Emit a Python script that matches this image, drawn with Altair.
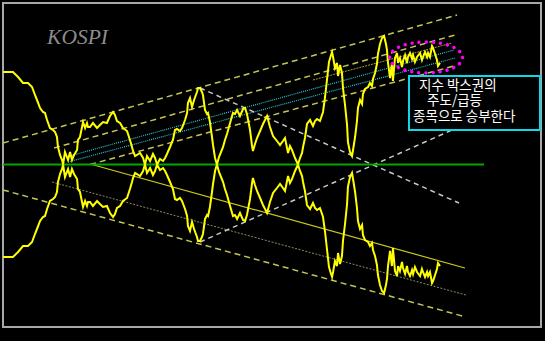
import altair as alt
import pandas as pd

# ---- KOSPI line (upper branch of the mirrored chart), decimal years / chart units
years = [1985.17, 1985.85, 1986.20, 1986.54, 1986.88, 1987.02, 1987.16, 1987.36, 1987.50, 1987.71,
         1987.91, 1988.05, 1988.19, 1988.39, 1988.60, 1988.74, 1988.87, 1988.94, 1989.08, 1989.22,
         1989.29, 1989.42, 1989.63, 1989.77, 1989.90, 1990.04, 1990.25, 1990.31, 1990.45, 1990.59,
         1990.66, 1990.80, 1990.93, 1991.00, 1991.14, 1991.34, 1991.62, 1991.82, 1992.03, 1992.30,
         1992.51, 1992.72, 1992.85, 1992.99, 1993.20, 1993.40, 1993.68, 1993.88, 1994.02, 1994.09,
         1994.23, 1994.36, 1994.57, 1994.78, 1994.91, 1995.05, 1995.26, 1995.46, 1995.60, 1995.74,
         1995.94, 1996.15, 1996.29, 1996.42, 1996.63, 1996.83, 1996.97, 1997.11, 1997.31, 1997.45,
         1997.66, 1997.80, 1997.86, 1998.00, 1998.14, 1998.28, 1998.48, 1998.55, 1998.69, 1998.82,
         1998.89, 1999.03, 1999.17, 1999.24, 1999.37, 1999.51, 1999.58, 1999.72, 1999.85, 1999.99,
         2000.13, 2000.27, 2000.40, 2000.54, 2000.75, 2000.95, 2001.09, 2001.23, 2001.43, 2001.64,
         2001.78, 2001.91, 2002.12, 2002.26, 2002.32, 2002.46, 2002.60, 2002.81, 2003.01, 2003.29,
         2003.49, 2003.70, 2003.97, 2004.18, 2004.38, 2004.52, 2004.73, 2004.86, 2005.00, 2005.21,
         2005.41, 2005.55, 2005.69, 2005.76, 2005.89, 2006.03, 2006.24, 2006.44, 2006.58, 2006.72,
         2006.92, 2007.13, 2007.27, 2007.40, 2007.54, 2007.68, 2007.75, 2007.82, 2007.95, 2008.09,
         2008.16, 2008.30, 2008.43, 2008.50, 2008.64, 2008.78, 2008.84, 2008.98, 2009.12, 2009.19,
         2009.33, 2009.46, 2009.53, 2009.67, 2009.81, 2009.87, 2010.01, 2010.22, 2010.35, 2010.49,
         2010.56, 2010.70, 2010.83, 2010.90, 2011.04, 2011.18, 2011.32, 2011.45, 2011.52, 2011.59,
         2011.73, 2011.86, 2011.93, 2012.07, 2012.21, 2012.28, 2012.41, 2012.55, 2012.62, 2012.76,
         2012.89, 2012.96, 2013.10, 2013.24, 2013.31, 2013.44, 2013.58, 2013.79, 2013.92, 2013.99,
         2014.13, 2014.27, 2014.34, 2014.47, 2014.61, 2014.68, 2014.82, 2014.95, 2015.02, 2015.16]
upper_branch = [2925, 2925, 2875, 2815, 2815, 2795, 2775, 2695, 2645, 2565,
                2525, 2515, 2445, 2365, 2345, 2325, 2275, 2175, 2095, 2045,
                2000, 2125, 2045, 2125, 2045, 2095, 2145, 2245, 2275, 2375,
                2425, 2365, 2415, 2375, 2375, 2415, 2365, 2395, 2425, 2415,
                2485, 2525, 2495, 2435, 2415, 2365, 2335, 2245, 2175, 2135,
                2085, 2095, 2115, 2065, 2000, 2085, 2035, 2105, 2065, 2000,
                2055, 2035, 2065, 2105, 2175, 2245, 2345, 2355, 2335, 2365,
                2445, 2515, 2615, 2665, 2575, 2645, 2725, 2765, 2765, 2725,
                2695, 2545, 2505, 2515, 2425, 2275, 2195, 2065, 2000, 2075,
                2125, 2175, 2245, 2305, 2415, 2515, 2505, 2545, 2485, 2555,
                2565, 2505, 2345, 2185, 2135, 2205, 2265, 2335, 2405, 2485,
                2375, 2285, 2235, 2195, 2235, 2265, 2115, 2185, 2145, 2065,
                2000, 2065, 2115, 2175, 2265, 2405, 2445, 2385, 2435, 2455,
                2435, 2525, 2675, 2845, 3025, 3095, 3125, 3075, 2965, 3015,
                2885, 2995, 2915, 2765, 2595, 2395, 2225, 2125, 2085, 2145,
                2275, 2435, 2565, 2645, 2605, 2705, 2755, 2775, 2815, 2785,
                2855, 2915, 3005, 3105, 3205, 3265, 3285, 3205, 3145, 3015,
                2865, 3015, 2835, 3065, 3115, 3015, 3065, 2975, 3035, 3095,
                3015, 3075, 3115, 3055, 3095, 3025, 3075, 3115, 3045, 3075,
                3125, 3075, 3115, 3075, 3185, 3165, 3105, 3045, 2985, 3015]
mirror_center = 2000
mirror_start, mirror_end = 1985.17, 2018.18

# ---- trend / channel lines (start year, start value, end year, end value)
seg_kind = ["ydash", "ydash", "cyan", "cyan", "ydash", "olive", "ysolid", "gray", "ydash", "white", "white"]
seg_year1 = [1985.17, 1988.67, 1989.49, 1989.63, 1991.14, 2006.44, 1991.27, 1988.53, 1985.17, 1998.69, 1998.69]
seg_val1 = [2215, 2165, 2075, 2025, 2000, 2845, 2000, 1825, 1745, 2765, 1225]
seg_year2 = [2016.33, 2016.19, 2016.12, 2016.19, 2016.12, 2015.98, 2016.87, 2016.94, 2016.94, 2016.46, 2015.98]
seg_val2 = [3495, 3295, 3145, 3065, 2985, 3215, 965, 695, 475, 1615, 2345]

# ---- axes
tick_years = [1985.1667, 1987.5, 1989.8333, 1992.1667, 1994.5, 1996.8333, 1999.1667,
              2001.5, 2003.8333, 2006.1667, 2008.5, 2010.8333, 2013.1667, 2015.5]
tick_labels = ["85-1-31", "87-6-30", "89-9-30", "92-1-31", "94-5-31", "96-9-30", "99-1-29",
               "01-5-31", "03-9-30", "06-1-31", "2008. 5", "2010. 9", "20131", "2015.5"]
y_ticks = [595, 1027, 1459, 1890, 2322, 2754, 3186]

# ---- annotations
title_text = ["KOSPI"]
title_year, title_val = [1988.19], [3265]
note_lines = ["지수 박스권의", "주도/급등", "종목으로 승부한다"]
note_years = [2013.72, 2014.27, 2013.31]
note_vals = [2790, 2635, 2480]
box_year1, box_year2, box_val1, box_val2 = [2013.03], [2022.02], [2345], [2885]
ellipse_year, ellipse_val = [2014.20], [3070]

# ------------------------------------------------------------------
xs = alt.Scale(domain=[1985.1667, 2022.09], nice=False, zero=False)
ys = alt.Scale(domain=[375, 3615], nice=False, zero=False)

label_arr = "[" + ",".join("'" + s + "'" for s in tick_labels) + "]"
x_axis = alt.Axis(values=tick_years, labelExpr=label_arr + "[round((datum.value-1985.1667)/2.33333)]",
                  grid=False, domain=False, ticks=False, labelFlush=False, labelOverlap=False,
                  labelBound=False, labelColor="#b0b0b0", labelFont="Liberation Sans",
                  labelFontSize=6.3, labelPadding=6, title=None)
y_axis = alt.Axis(values=y_ticks, labels=False, grid=False, domain=False, ticks=True,
                  tickSize=3, tickColor="#9a9a9a", tickWidth=1, offset=-3, title=None)

kospi = pd.DataFrame({"year": years, "upper": upper_branch})
segs = pd.DataFrame({"kind": seg_kind, "year": seg_year1, "val": seg_val1,
                     "year2": seg_year2, "val2": seg_val2})

styles = {
    "ydash": dict(color="#c4c45a", strokeWidth=1.5, strokeDash=[6, 4]),
    "cyan": dict(color="#2ac4d4", strokeWidth=1.2, strokeDash=[1, 1]),
    "olive": dict(color="#a0a040", strokeWidth=1, strokeDash=[2, 1]),
    "ysolid": dict(color="#c8c81e", strokeWidth=1.2),
    "gray": dict(color="#8c8c64", strokeWidth=1, strokeDash=[2, 1.5]),
    "white": dict(color="#c8c8c8", strokeWidth=1.5, strokeDash=[5, 4]),
}

layers = []
base_axes = alt.Chart(kospi).mark_point(opacity=0).encode(
    x=alt.X("year:Q", scale=xs, axis=x_axis),
    y=alt.Y("upper:Q", scale=ys, axis=y_axis),
)
layers.append(base_axes)

for kind, st in styles.items():
    layers.append(
        alt.Chart(segs).transform_filter(alt.datum.kind == kind).mark_rule(**st).encode(
            x=alt.X("year:Q", scale=xs, axis=None),
            y=alt.Y("val:Q", scale=ys, axis=None),
            x2="year2:Q", y2="val2:Q")
    )

green = alt.Chart(pd.DataFrame({"year": [mirror_start], "year2": [mirror_end],
                                "val": [mirror_center]})).mark_rule(
    color="#00a800", strokeWidth=1.8).encode(
    x=alt.X("year:Q", scale=xs, axis=None), x2="year2:Q",
    y=alt.Y("val:Q", scale=ys, axis=None))
layers.append(green)

upper_line = alt.Chart(kospi).mark_line(color="#ffff00", strokeWidth=2).encode(
    x=alt.X("year:Q", scale=xs, axis=None), y=alt.Y("upper:Q", scale=ys, axis=None))
lower_line = alt.Chart(kospi).transform_calculate(
    lower=f"{2 * mirror_center} - datum.upper").mark_line(color="#ffff00", strokeWidth=2).encode(
    x=alt.X("year:Q", scale=xs, axis=None), y=alt.Y("lower:Q", scale=ys, axis=None))
layers += [upper_line, lower_line]

box = alt.Chart(pd.DataFrame({"year": box_year1, "year2": box_year2, "val": box_val1,
                              "val2": box_val2})).mark_rect(
    fill="black", stroke="#10d8e8", strokeWidth=2).encode(
    x=alt.X("year:Q", scale=xs, axis=None), x2="year2:Q",
    y=alt.Y("val:Q", scale=ys, axis=None), y2="val2:Q")
layers.append(box)

notes = alt.Chart(pd.DataFrame({"year": note_years, "val": note_vals, "t": note_lines})).mark_text(
    align="left", baseline="middle", font="Noto Sans CJK KR", fontSize=13.5, color="#ffffff").encode(
    x=alt.X("year:Q", scale=xs, axis=None), y=alt.Y("val:Q", scale=ys, axis=None), text="t:N")
layers.append(notes)

title = alt.Chart(pd.DataFrame({"year": title_year, "val": title_val, "t": title_text})).mark_text(
    align="left", baseline="middle", font="Liberation Serif", fontStyle="italic",
    fontSize=21.5, color="#8c8c8c").encode(
    x=alt.X("year:Q", scale=xs, axis=None), y=alt.Y("val:Q", scale=ys, axis=None), text="t:N")
layers.append(title)

ellipse_path = ("M 1 0 C 1 0.235 0.552 0.425 0 0.425 C -0.552 0.425 -1 0.235 -1 0 "
                "C -1 -0.235 -0.552 -0.425 0 -0.425 C 0.552 -0.425 1 -0.235 1 0 Z")
ellipse = alt.Chart(pd.DataFrame({"year": ellipse_year, "val": ellipse_val})).mark_point(
    shape=ellipse_path, size=5329, filled=False, stroke="#ff00ff", strokeWidth=3.5,
    strokeDash=[0.01, 7.08], strokeCap="round", opacity=1).encode(
    x=alt.X("year:Q", scale=xs, axis=None), y=alt.Y("val:Q", scale=ys, axis=None))
layers.append(ellipse)

chart = alt.layer(*layers).properties(
    width=538, height=324,
    autosize=alt.AutoSizeParams(type="none"),
    padding={"left": 3, "top": 3, "right": 4, "bottom": 14},
    background="black",
).configure_view(stroke="#a8a8a8", strokeWidth=2)

chart.save("out.html", embed_options={"renderer": "svg", "actions": False})
